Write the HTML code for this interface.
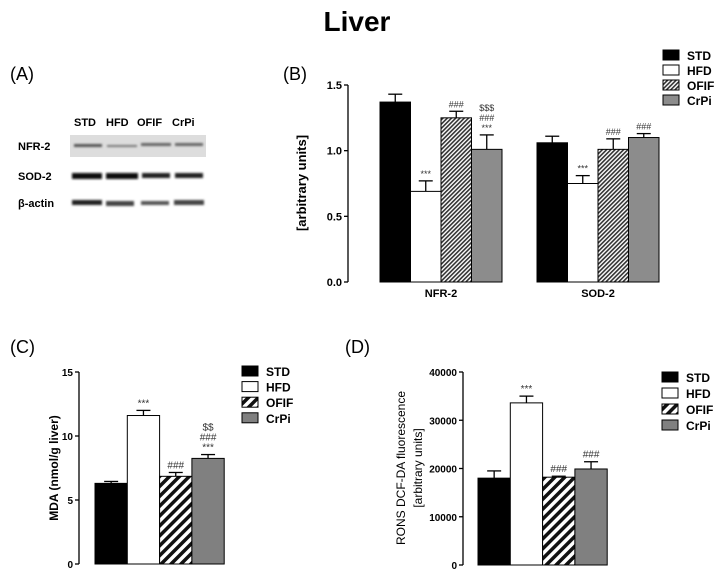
<!DOCTYPE html>
<html><head><meta charset="utf-8"><style>
body{margin:0;background:#fff;font-family:"Liberation Sans",Arial,sans-serif}
svg text{font-family:"Liberation Sans",Arial,sans-serif}
</style></head><body>
<svg id="fig" width="715" height="576" viewBox="0 0 715 576" xmlns="http://www.w3.org/2000/svg">
<defs>
<pattern id="hatchFine" patternUnits="userSpaceOnUse" width="3" height="3" patternTransform="rotate(45)"><rect width="3" height="3" fill="#fff"/><rect width="1.6" height="3" fill="#333"/></pattern>
<pattern id="hatchWide" patternUnits="userSpaceOnUse" width="7" height="7" patternTransform="rotate(45)"><rect width="7" height="7" fill="#fff"/><rect width="3.5" height="7" fill="#111"/></pattern>
<filter id="blur"><feGaussianBlur stdDeviation="1"/></filter>
</defs>
<text x="357" y="31" text-anchor="middle" font-size="28" font-weight="bold">Liver</text>
<text x="10" y="80" font-size="18">(A)</text>
<text x="283" y="80" font-size="18">(B)</text>
<text x="10" y="353" font-size="18">(C)</text>
<text x="345" y="353" font-size="18">(D)</text>
<g font-size="11" font-weight="bold">
<text x="74" y="126">STD</text><text x="106" y="126">HFD</text><text x="137" y="126">OFIF</text><text x="172" y="126">CrPi</text>
<text x="18" y="150">NFR-2</text><text x="18" y="180">SOD-2</text><text x="18" y="207">β-actin</text>
<rect x="70" y="135" width="136" height="22" fill="#ddd"/>
<g filter="url(#blur)">
<rect x="74" y="144" width="28" height="3" fill="#555"/><rect x="107" y="145" width="30" height="2" fill="#777"/><rect x="141" y="143" width="30" height="3" fill="#666"/><rect x="175" y="143" width="28" height="3" fill="#666"/>
<rect x="72" y="173" width="30" height="6" fill="#111"/><rect x="106" y="173" width="32" height="6" fill="#111"/><rect x="142" y="173" width="28" height="5" fill="#222"/><rect x="175" y="173" width="28" height="5" fill="#222"/>
<rect x="72" y="200" width="30" height="5" fill="#222"/><rect x="106" y="201" width="28" height="5" fill="#444"/><rect x="141" y="201" width="28" height="4" fill="#555"/><rect x="174" y="200" width="30" height="5" fill="#444"/>
</g></g>
<g id="chartB"></g><g id="chartC"></g><g id="chartD"></g>
</svg>
<script>
const groups=["STD","HFD","OFIF","CrPi"];
const bCategories=["NFR-2","SOD-2"];
const bValues=[[1.37,0.69,1.25,1.01],[1.06,0.75,1.01,1.10]];
const bErrors=[[0.06,0.08,0.05,0.11],[0.05,0.06,0.08,0.03]];
const bAnnot=[[[],["***"],["###"],["***","###","$$$"]],[[],["***"],["###"],["###"]]];
const bTicks=[0,0.5,1.0,1.5];
const cValues=[6.3,11.6,6.85,8.25];
const cErrors=[0.15,0.4,0.3,0.3];
const cAnnot=[[],["***"],["###"],["***","###","$$"]];
const cTicks=[0,5,10,15];
const dValues=[18000,33600,18200,19900];
const dErrors=[1500,1400,200,1500];
const dAnnot=[[],["***"],["###"],["###"]];
const dTicks=[0,10000,20000,30000,40000];
const NS="http://www.w3.org/2000/svg";
function mk(p,t,a){const e=document.createElementNS(NS,t);for(const k in a)e.setAttribute(k,a[k]);p.appendChild(e);return e;}
const fillsB=["#000","#fff","url(#hatchFine)","#8c8c8c"];
const fillsCD=["#000","#fff","url(#hatchWide)","#808080"];
function axis(g,x0,y0,y1,vmax,ticks,fmt,fs){
  const y=v=>y0-(v/vmax)*(y0-y1);
  const ax=mk(g,"line",{x1:x0,y1:y0,x2:x0,y2:y1,stroke:"#000","stroke-width":1.3});
  
  
  ticks.forEach(t=>{
    mk(g,"line",{x1:x0-4,x2:x0,y1:y(t),y2:y(t),stroke:"#000","stroke-width":1.3});
    const tx=mk(g,"text",{x:x0-6,y:y(t)+4,"text-anchor":"end","font-size":fs,"font-weight":"bold"});
    tx.textContent=fmt(t);
    
    
  });
  return y;
}
function bars(g,y,xs,w,vals,errs,ann,fills,fs){
  vals.forEach((v,i)=>{
    const x=xs[i];
    const r=mk(g,"rect",{x:x,y:y(v),width:w,height:y(0)-y(v),fill:fills[i],stroke:"#000","stroke-width":1});
    
    
    const ye=y(v+errs[i]),cx=x+w/2;
    mk(g,"line",{x1:cx,x2:cx,y1:y(v),y2:ye,stroke:"#000","stroke-width":1.3});
    mk(g,"line",{x1:cx-7,x2:cx+7,y1:ye,y2:ye,stroke:"#000","stroke-width":1.3});
    ann[i].forEach((s,k)=>{
      const t=mk(g,"text",{x:cx,y:ye-4-k*10,"text-anchor":"middle","font-size":fs,fill:"#333"});
      t.textContent=s;
      
      
    });
  });
}
function legend(g,x,y0,dy,fills){
  groups.forEach((n,i)=>{
    mk(g,"rect",{x:x,y:y0+i*dy-5,width:16,height:10,fill:fills[i],stroke:"#000","stroke-width":1});
    const t=mk(g,"text",{x:x+24,y:y0+i*dy+5,"font-size":12,"font-weight":"bold"});
    t.textContent=n;
    
    
  });
}
// B
(function(){
  const g=document.getElementById("chartB");
  const y=axis(g,348,282,85,1.5,bTicks,t=>t.toFixed(1),11);
  const starts=[380,537];
  bCategories.forEach((c,ci)=>{
    const xs=groups.map((_,i)=>starts[ci]+i*30.5);
    bars(g,y,xs,30.5,bValues[ci],bErrors[ci],bAnnot[ci],fillsB,9);
    const t=mk(g,"text",{x:starts[ci]+61,y:297,"text-anchor":"middle","font-size":11,"font-weight":"bold"});
    t.textContent=c;
    
    
  });
  const yt=mk(g,"text",{transform:"translate(306,183) rotate(-90)","text-anchor":"middle","font-size":13,"font-weight":"bold"});
  yt.textContent="[arbitrary units]";
  
  
  legend(g,663,55,15,fillsB);
})();
// C
(function(){
  const g=document.getElementById("chartC");
  const y=axis(g,79,564,372,15,cTicks,t=>String(t),10);
  const xs=groups.map((_,i)=>95+i*32.3);
  bars(g,y,xs,32.3,cValues,cErrors,cAnnot,fillsCD,10);
  const yt=mk(g,"text",{transform:"translate(58,468) rotate(-90)","text-anchor":"middle","font-size":12,"font-weight":"bold"});
  yt.textContent="MDA (nmol/g liver)";
  
  
  legend(g,242,371,15.6,fillsCD);
})();
// D
(function(){
  const g=document.getElementById("chartD");
  const y=axis(g,463,565,372,40000,dTicks,t=>String(t),10);
  const xs=groups.map((_,i)=>478+i*32.3);
  bars(g,y,xs,32.3,dValues,dErrors,dAnnot,fillsCD,10);
  const yt=mk(g,"text",{transform:"translate(405,468) rotate(-90)","text-anchor":"middle","font-size":12});
  yt.textContent="RONS DCF-DA fluorescence";
  
  
  const yt2=mk(g,"text",{transform:"translate(422,468) rotate(-90)","text-anchor":"middle","font-size":12});
  yt2.textContent="[arbitrary units]";
  
  
  legend(g,662,377,16,fillsCD);
})();
</script>
</body></html>
